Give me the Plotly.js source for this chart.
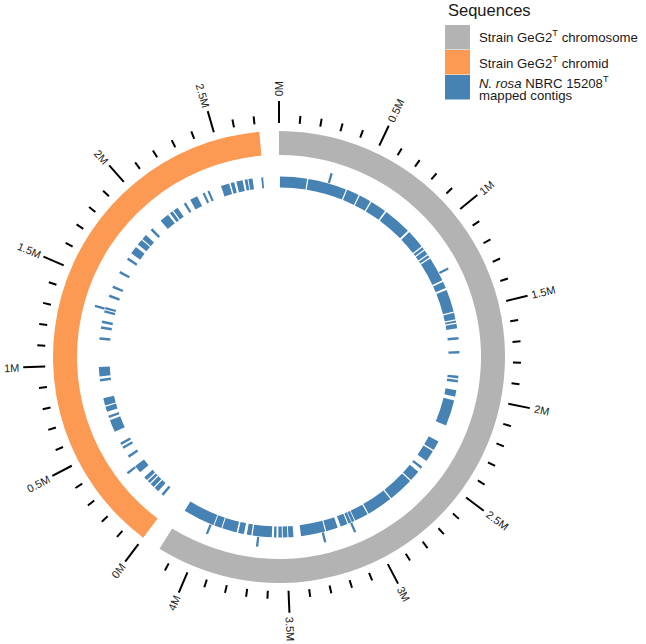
<!DOCTYPE html>
<html>
<head>
<meta charset="utf-8">
<script src="https://cdn.plot.ly/plotly-3.0.1.min.js"></script>
<style>
  html, body { margin: 0; padding: 0; background: #fff; }
  #grafico { width: 646px; height: 644px; }
</style>
</head>
<body>
<div id="grafico"></div>
<script>
/* ===================================================================
   Circular genome map: GeG2T chromosome + chromid, with N. rosa
   NBRC 15208T contigs mapped onto them (positions in Mb)
   =================================================================== */

// ---------------------------------------------------------------------
// DATA
// ---------------------------------------------------------------------
const sequenceNames = ["chromosome", "chromid"];
const sequenceLengths = [4.175, 2.72];           // Mb
const sequenceColors = ["#B3B3B3", "#FC9A54"];
const majorTickValues = [0, 0.5, 1, 1.5, 2, 2.5, 3, 3.5, 4];

// mapped contigs on the chromosome (start / end, Mb)
const chromContigStart = [0.006, 0.185, 0.437, 0.524, 0.607, 0.719, 0.910, 1.036, 1.060, 1.097,
  1.121, 1.288, 1.344, 1.493, 1.543, 1.564, 1.647, 1.736, 1.891, 1.917,
  1.982, 2.047, 2.323, 2.394, 2.510, 2.551, 2.628, 2.796, 2.967, 3.059,
  3.081, 3.107, 3.172, 3.254, 3.455, 3.493, 3.528, 3.562, 3.591, 3.720,
  3.767, 3.814, 3.913, 3.966];
const chromContigEnd = [0.177, 0.429, 0.516, 0.599, 0.709, 0.898, 1.028, 1.052, 1.089, 1.113,
  1.277, 1.330, 1.485, 1.535, 1.556, 1.592, 1.663, 1.751, 1.907, 1.933,
  2.023, 2.212, 2.384, 2.466, 2.526, 2.620, 2.788, 2.959, 3.054, 3.077,
  3.099, 3.152, 3.247, 3.408, 3.487, 3.522, 3.550, 3.578, 3.712, 3.749,
  3.804, 3.907, 3.960, 4.167];

// mapped contigs on the chromid (start / end, Mb)
const chromidContigStart = [0.057, 0.100, 0.138, 0.173, 0.199, 0.264, 0.378, 0.443, 0.471, 0.563,
  0.656, 0.697, 0.739, 0.892, 0.924, 1.154, 1.223, 1.259, 1.326, 1.348,
  1.428, 1.489, 1.590, 1.688, 1.736, 1.805, 1.850, 1.925, 2.011, 2.086,
  2.114, 2.191, 2.238, 2.325, 2.358, 2.449, 2.512, 2.549, 2.602, 2.626,
  2.707];
const chromidContigEnd = [0.073, 0.130, 0.165, 0.191, 0.223, 0.313, 0.394, 0.459, 0.487, 0.642,
  0.672, 0.731, 0.786, 0.908, 0.983, 1.170, 1.239, 1.275, 1.342, 1.363,
  1.444, 1.505, 1.606, 1.704, 1.785, 1.842, 1.883, 1.941, 2.071, 2.106,
  2.145, 2.206, 2.287, 2.339, 2.372, 2.502, 2.535, 2.589, 2.620, 2.652,
  2.719];

// overlapping contigs stacked on a second layer
const chromStackedStart = [0.308, 1.222, 3.076, 3.263, 3.669, 3.976];
const chromStackedEnd   = [0.322, 1.236, 3.090, 3.277, 3.683, 3.990];
const chromidStackedStart = [0.300, 1.344];
const chromidStackedEnd   = [0.314, 1.358];

// ---------------------------------------------------------------------
// GEOMETRY (1 radial unit = 1 px)
// ---------------------------------------------------------------------
const W = 646, H = 644;
const centerX = 279, centerY = 357;
const radialMax = 260;
const gapDeg = 5;
const totalLength = sequenceLengths.reduce((a, b) => a + b, 0);
const degPerMb = (360 - gapDeg * sequenceLengths.length) / totalLength;
const sequenceStartDeg = [0, sequenceLengths[0] * degPerMb + gapDeg];

const ringBase = 202, ringWidth = 24;
const trackBase = 169.5, trackWidth = 11;
const stackBase = 181, stackWidth = 10;
const tickBase = 234, minorLen = 8, majorLen = 22;
const labelGap = 4;

const BLUE = "#4682B4";
const FONT = "'Liberation Sans', Arial, sans-serif";

function thetaOf(seq, pos) {
  return sequenceStartDeg[seq] + pos * degPerMb;
}

function toPaper(r, theta) {
  const rad = theta * Math.PI / 180;
  return {
    x: (centerX + r * Math.sin(rad)) / W,
    y: (H - (centerY - r * Math.cos(rad))) / H,
  };
}

// ---------------------------------------------------------------------
// TRACES
// ---------------------------------------------------------------------
const ringTrace = {
  type: "barpolar",
  theta: sequenceLengths.map((len, i) => thetaOf(i, len / 2)),
  width: sequenceLengths.map((len) => len * degPerMb),
  r: sequenceLengths.map(() => ringWidth),
  base: sequenceLengths.map(() => ringBase),
  marker: { color: sequenceColors, line: { width: 0 } },
  showlegend: false,
  hoverinfo: "skip",
};

function contigTrace(starts, ends, seq, base, width) {
  return {
    type: "barpolar",
    theta: starts.map((s, i) => thetaOf(seq, (s + ends[i]) / 2)),
    width: starts.map((s, i) => (ends[i] - s) * degPerMb),
    r: starts.map(() => width),
    base: starts.map(() => base),
    marker: { color: BLUE, line: { width: 0 } },
    showlegend: false,
    hoverinfo: "skip",
  };
}

const contigTraces = [
  contigTrace(chromContigStart, chromContigEnd, 0, trackBase, trackWidth),
  contigTrace(chromidContigStart, chromidContigEnd, 1, trackBase, trackWidth),
  contigTrace(chromStackedStart, chromStackedEnd, 0, stackBase, stackWidth),
  contigTrace(chromidStackedStart, chromidStackedEnd, 1, stackBase, stackWidth),
];

// ticks every 0.1 Mb, major every 0.5 Mb
const tickR = [], tickTheta = [];
const labelAnnotations = [];
const canvas = document.createElement("canvas").getContext("2d");
canvas.font = `11px ${FONT}`;

sequenceLengths.forEach((len, seq) => {
  for (let i = 0; i * 0.1 <= len + 1e-9; i++) {
    const pos = +(i * 0.1).toFixed(1);
    const isMajor = majorTickValues.includes(pos);
    const th = thetaOf(seq, pos);
    tickR.push(tickBase, tickBase + (isMajor ? majorLen : minorLen), null);
    tickTheta.push(th, th, null);

    if (isMajor) {
      const text = `${pos}M`;
      const w = canvas.measureText(text).width;
      const rightSide = th < 180;
      const p = toPaper(tickBase + majorLen + labelGap + w / 2, th);
      labelAnnotations.push({
        text: text,
        x: p.x, y: p.y, xref: "paper", yref: "paper",
        xanchor: "center", yanchor: "middle",
        textangle: rightSide ? th - 90 : th - 270,
        showarrow: false,
        font: { size: 11, color: "#222", family: FONT },
      });
    }
  }
});

const tickTrace = {
  type: "scatterpolar",
  mode: "lines",
  r: tickR,
  theta: tickTheta,
  line: { color: "#000", width: 2 },
  showlegend: false,
  hoverinfo: "skip",
};

// ---------------------------------------------------------------------
// LEGEND (drawn by hand: ggplot-sized keys)
// ---------------------------------------------------------------------
const legendLabels = [
  "Strain GeG2<sup>T</sup> chromosome",
  "Strain GeG2<sup>T</sup> chromid",
  "<i>N. rosa</i> NBRC 15208<sup>T</sup>",
];
const legendColors = [sequenceColors[0], sequenceColors[1], BLUE];
const keyX = 445, keyY = 25, keyW = 25, keyH = 24.5;

const legendShapes = legendColors.map((c, i) => ({
  type: "rect", xref: "paper", yref: "paper",
  x0: keyX / W, x1: (keyX + keyW) / W,
  y0: (H - (keyY + i * (keyH + 0.5))) / H,
  y1: (H - (keyY + i * (keyH + 0.5) + keyH)) / H,
  fillcolor: c, line: { width: 0 },
}));

const legendAnnotations = [
  { text: "Sequences", x: 446 / W, y: (H - 10) / H, size: 16.5 },
  { text: legendLabels[0], x: 477 / W, y: (H - 37) / H, size: 13.2 },
  { text: legendLabels[1], x: 477 / W, y: (H - 62) / H, size: 13.2 },
  { text: legendLabels[2], x: 477 / W, y: (H - 82.5) / H, size: 13.2 },
  { text: "mapped contigs", x: 477 / W, y: (H - 96) / H, size: 13.2 },
].map((a) => ({
  text: a.text, x: a.x, y: a.y, xref: "paper", yref: "paper",
  xanchor: "left", yanchor: "middle", showarrow: false,
  font: { size: a.size, color: "#1a1a1a", family: FONT },
}));

// ---------------------------------------------------------------------
// LAYOUT
// ---------------------------------------------------------------------
const layout = {
  width: W,
  height: H,
  margin: { l: 0, r: 0, t: 0, b: 0, pad: 0 },
  paper_bgcolor: "#fff",
  showlegend: false,
  font: { family: FONT },
  polar: {
    domain: {
      x: [(centerX - radialMax) / W, (centerX + radialMax) / W],
      y: [(H - centerY - radialMax) / H, (H - centerY + radialMax) / H],
    },
    bgcolor: "rgba(0,0,0,0)",
    angularaxis: {
      rotation: 90, direction: "clockwise", thetaunit: "degrees",
      showline: false, showgrid: false, showticklabels: false, ticks: "",
    },
    radialaxis: {
      range: [0, radialMax], autorange: false,
      showline: false, showgrid: false, showticklabels: false, ticks: "",
    },
    barmode: "overlay",
  },
  shapes: legendShapes,
  annotations: labelAnnotations.concat(legendAnnotations),
};

Plotly.newPlot("grafico", [ringTrace, ...contigTraces, tickTrace], layout, {
  displayModeBar: false,
  staticPlot: true,
});
</script>
</body>
</html>
